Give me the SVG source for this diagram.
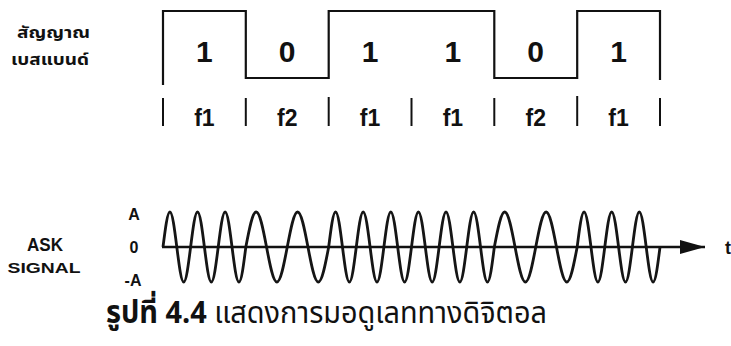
<svg xmlns="http://www.w3.org/2000/svg" width="731" height="346" viewBox="0 0 731 346">
<style>
.ln{fill:none;stroke:#111;stroke-width:2.2;stroke-linejoin:miter}
.tk{stroke:#111;stroke-width:2}
.wv{fill:none;stroke:#151515;stroke-width:2.8}
.b{font-family:"Liberation Sans",Arial,sans-serif;font-weight:bold;fill:#111}
.th{font-family:"Noto Sans Thai","Loma","Garuda","Norasi","DejaVu Sans",sans-serif;fill:#111}
</style>
<defs>
<marker id="ah" viewBox="0 0 25 14" refX="25" refY="7" markerWidth="25" markerHeight="14" markerUnits="userSpaceOnUse" orient="auto">
<path d="M0,0 L25,7 L0,14 Z" fill="#111"/>
</marker>
</defs>
<rect width="731" height="346" fill="#fff"/>
<g id="baseband-label">
<text class="th" x="17" y="38" font-size="16" font-weight="bold" textLength="73" lengthAdjust="spacingAndGlyphs">สัญญาณ</text>
<text class="th" x="11" y="65" font-size="16" font-weight="bold" textLength="78" lengthAdjust="spacingAndGlyphs">เบสแบนด์</text>
</g>
<g id="baseband-signal">
<path class="ln" d="M163,85 V11 H245.8 V78 H328.7 V11 H494.3 V78 H577.2 V11 H660 V80"/>
<g class="b" font-size="30" text-anchor="middle">
<text x="204.4" y="62">1</text>
<text x="287.2" y="62">0</text>
<text x="370.1" y="62">1</text>
<text x="452.9" y="62">1</text>
<text x="535.7" y="62">0</text>
<text x="618.6" y="62">1</text>
</g>
</g>
<g id="frequency-row">
<g class="tk">
<line x1="163" y1="98" x2="163" y2="126"/>
<line x1="245.8" y1="98" x2="245.8" y2="126"/>
<line x1="328.7" y1="97" x2="328.7" y2="126"/>
<line x1="411.5" y1="98" x2="411.5" y2="126"/>
<line x1="494.3" y1="98" x2="494.3" y2="126"/>
<line x1="577.2" y1="96" x2="577.2" y2="126"/>
<line x1="660" y1="98" x2="660" y2="126"/>
</g>
<g class="b" font-size="23" text-anchor="middle">
<text x="204.4" y="126">f1</text>
<text x="287.2" y="126">f2</text>
<text x="370.1" y="126">f1</text>
<text x="452.9" y="126">f1</text>
<text x="535.7" y="126">f2</text>
<text x="618.6" y="126">f1</text>
</g>
</g>
<g id="ask-label" class="b" text-anchor="middle">
<text x="45" y="251" font-size="18" textLength="36" lengthAdjust="spacingAndGlyphs">ASK</text>
<text x="44" y="273" font-size="15" textLength="73" lengthAdjust="spacingAndGlyphs">SIGNAL</text>
</g>
<g id="amplitude-labels" class="b" text-anchor="middle" font-size="16">
<text x="134" y="220">A</text>
<text x="134" y="253">0</text>
<text x="133" y="286">-A</text>
</g>
<g id="ask-signal">
<path class="wv" d="M163,247
c2.251,-17.93 4.405,-35 6.903,-35 c2.498,0 4.652,17.07 6.903,35 c2.251,17.93 4.405,35 6.903,35 c2.498,0 4.652,-17.07 6.903,-35
c2.251,-17.93 4.405,-35 6.903,-35 c2.498,0 4.652,17.07 6.903,35 c2.251,17.93 4.405,35 6.903,35 c2.498,0 4.652,-17.07 6.903,-35
c2.251,-17.93 4.405,-35 6.903,-35 c2.498,0 4.652,17.07 6.903,35 c2.251,17.93 4.405,35 6.903,35 c2.498,0 4.652,-17.07 6.903,-35
c3.376,-17.93 6.607,-35 10.354,-35 c3.747,0 6.978,17.07 10.354,35 c3.376,17.93 6.607,35 10.354,35 c3.747,0 6.978,-17.07 10.354,-35
c3.376,-17.93 6.607,-35 10.354,-35 c3.747,0 6.978,17.07 10.354,35 c3.376,17.93 6.607,35 10.354,35 c3.747,0 6.978,-17.07 10.354,-35
c2.251,-17.93 4.405,-35 6.903,-35 c2.498,0 4.652,17.07 6.903,35 c2.251,17.93 4.405,35 6.903,35 c2.498,0 4.652,-17.07 6.903,-35
c2.251,-17.93 4.405,-35 6.903,-35 c2.498,0 4.652,17.07 6.903,35 c2.251,17.93 4.405,35 6.903,35 c2.498,0 4.652,-17.07 6.903,-35
c2.251,-17.93 4.405,-35 6.903,-35 c2.498,0 4.652,17.07 6.903,35 c2.251,17.93 4.405,35 6.903,35 c2.498,0 4.652,-17.07 6.903,-35
c2.251,-17.93 4.405,-35 6.903,-35 c2.498,0 4.652,17.07 6.903,35 c2.251,17.93 4.405,35 6.903,35 c2.498,0 4.652,-17.07 6.903,-35
c2.251,-17.93 4.405,-35 6.903,-35 c2.498,0 4.652,17.07 6.903,35 c2.251,17.93 4.405,35 6.903,35 c2.498,0 4.652,-17.07 6.903,-35
c2.251,-17.93 4.405,-35 6.903,-35 c2.498,0 4.652,17.07 6.903,35 c2.251,17.93 4.405,35 6.903,35 c2.498,0 4.652,-17.07 6.903,-35
c3.376,-17.93 6.607,-35 10.354,-35 c3.747,0 6.978,17.07 10.354,35 c3.376,17.93 6.607,35 10.354,35 c3.747,0 6.978,-17.07 10.354,-35
c3.376,-17.93 6.607,-35 10.354,-35 c3.747,0 6.978,17.07 10.354,35 c3.376,17.93 6.607,35 10.354,35 c3.747,0 6.978,-17.07 10.354,-35
c2.251,-17.93 4.405,-35 6.903,-35 c2.498,0 4.652,17.07 6.903,35 c2.251,17.93 4.405,35 6.903,35 c2.498,0 4.652,-17.07 6.903,-35
c2.251,-17.93 4.405,-35 6.903,-35 c2.498,0 4.652,17.07 6.903,35 c2.251,17.93 4.405,35 6.903,35 c2.498,0 4.652,-17.07 6.903,-35
c2.251,-17.93 4.405,-35 6.903,-35 c2.498,0 4.652,17.07 6.903,35 c2.251,17.93 4.405,35 6.903,35 c2.498,0 4.652,-17.07 6.903,-35"/>
</g>
<g id="connectors">
<line x1="162" y1="247" x2="705" y2="247" stroke="#111" stroke-width="2.4" marker-end="url(#ah)"/>
</g>
<g id="time-label">
<text class="b" x="725" y="254" font-size="18">t</text>
</g>
<g id="caption">
<text class="th" x="106" y="323" font-size="31" textLength="441" lengthAdjust="spacingAndGlyphs"><tspan font-weight="bold">รูปที่ 4.4</tspan> แสดงการมอดูเลททางดิจิตอล</text>
</g>
</svg>
